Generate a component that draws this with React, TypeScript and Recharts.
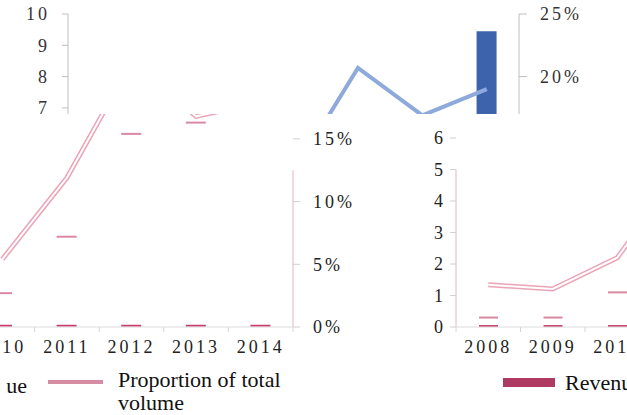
import React from 'react';
import { ComposedChart, Bar, Line, XAxis, YAxis, ReferenceLine } from 'recharts';

// upper fragment (cut at y=114)
const topYears = ['2008', '2009', '2010', '2011', '2012', '2013', '2014'];
const topProportion = [10.5, 11.5, 11.0, 12.3, 20.7, 16.9, 19.0];
const topRevenue = [null, null, null, null, null, null, 9.45];
const topLeftTicks = [0, 1, 2, 3, 4, 5, 6, 7, 8, 9, 10];
const topPctTicks = [0, 5, 10, 15, 20, 25];

// middle-left fragment
const midYears = ['2010', '2011', '2012', '2013', '2014'];
const midProportion = [5.4, 11.9, 21.1, 16.8, 17.9];
const midShareMark = [2.7, 7.2, 15.4, 16.3, 19.5];
const midRevenueMark = [0.1, 0.1, 0.1, 0.1, 0.1];
const midPctTicks = [0, 5, 10, 15];

// middle-right fragment
const rightYears = ['2008', '2009', '2010', '2011'];
const rightProportion = [1.34, 1.21, 2.2, 5.0];
const rightShareMark = [0.3, 0.3, 1.1, 1.5];
const rightRevenueMark = [0.03, 0.03, 0.03, 0.03];
const rightTicks = [0, 1, 2, 3, 4, 5, 6];

const topData = topYears.map((year, i) => ({ year, proportion: topProportion[i], revenue: topRevenue[i] }));
const midData = midYears.map((year, i) => ({
  year, proportion: midProportion[i], share: midShareMark[i], revenue: midRevenueMark[i],
}));
const rightData = rightYears.map((year, i) => ({
  year, proportion: rightProportion[i], share: rightShareMark[i], revenue: rightRevenueMark[i],
}));

const MID_PLOT_W = 323;
const RIGHT_PLOT_W = 258;

const dash = (color: string) => (props: any) => (
  <rect x={props.x} y={props.y - 1} width={props.width} height={2} fill={color} />
);

// year label with excel-style tick marks between the categories
const yearTick = (plotW: number, count: number, lastEdge: boolean) => (props: any) => {
  const { x, y, payload, index } = props;
  const half = plotW / count / 2;
  return (
    <g>
      <line x1={x - half} x2={x - half} y1={y} y2={y + 5} stroke="#D6D6D6" />
      {lastEdge && index === count - 1 && <line x1={x + half} x2={x + half} y1={y} y2={y + 5} stroke="#D6D6D6" />}
      <text x={x} y={y + 13} dy="0.71em" textAnchor="middle" fill="#222" fontSize={18}>{payload.value}</text>
    </g>
  );
};

const tickStyle = { fill: '#222', fontSize: 18 };
const pct = (v: number) => `${v}%`;

const App: React.FC = () => {
  return (
    <div style={{ position: 'absolute', left: 0, top: 0, width: 627, height: 415, overflow: 'hidden', background: '#fff', fontFamily: '"Liberation Serif", serif' }}>
      {/* top */}
      <div style={{ position: 'absolute', left: 0, top: 0, width: 627, height: 114, overflow: 'hidden', letterSpacing: 3 }}>
        <ComposedChart width={627} height={345} data={topData} margin={{ top: 14, right: 0, bottom: 18, left: 0 }}>
          <XAxis dataKey="year" hide />
          <YAxis yAxisId="left" width={68} domain={[0, 10]} ticks={topLeftTicks} interval={0}
            tickSize={6} tickMargin={12} stroke="#BFBFBF" tick={{ fill: '#333', fontSize: 18 }} />
          <YAxis yAxisId="right" orientation="right" width={108} domain={[0, 25]} ticks={topPctTicks} interval={0}
            tickFormatter={pct} tickSize={8} tickMargin={13} stroke="#BFBFBF" tick={{ fill: '#333', fontSize: 18 }} />
          <Bar yAxisId="left" dataKey="revenue" barSize={20} fill="#3C63AC" isAnimationActive={false} />
          <Line yAxisId="right" dataKey="proportion" stroke="#8EA9DB" strokeWidth={4} dot={false} isAnimationActive={false} />
        </ComposedChart>
      </div>

      {/* middle left */}
      <div style={{ position: 'absolute', left: 0, top: 114, width: 400, height: 250, overflow: 'hidden', letterSpacing: 3 }}>
        <div style={{ position: 'absolute', left: -30, top: -120 }}>
          <ComposedChart width={MID_PLOT_W + 107} height={363} data={midData} margin={{ top: 19.5, right: 0, bottom: 0, left: 0 }} barGap={-20}>
            <XAxis dataKey="year" stroke="#DCDCDC" tickLine={false} height={30} tickSize={0} tickMargin={0}
              interval={0} tick={yearTick(MID_PLOT_W, midYears.length, true)} />
            <YAxis orientation="right" width={107} domain={[0, 25]} ticks={midPctTicks} interval={0} tickFormatter={pct}
              axisLine={false} tickSize={7} tickMargin={13} stroke="#D0D0D0" tick={tickStyle} />
            <ReferenceLine segment={[{ x: '2014', y: 0 }, { x: '2014', y: 12.5 }]} position="end" stroke="#E8B0C0" ifOverflow="visible" />
            <Bar dataKey="share" barSize={20} shape={dash('#D98AA2')} isAnimationActive={false} />
            <Bar dataKey="revenue" barSize={20} shape={dash('#C8406A')} isAnimationActive={false} />
            <Line dataKey="proportion" stroke="#EBA3B7" strokeWidth={5} dot={false} isAnimationActive={false} />
            <Line dataKey="proportion" stroke="#fff" strokeWidth={2} dot={false} isAnimationActive={false} />
          </ComposedChart>
        </div>
      </div>

      {/* middle right */}
      <div style={{ position: 'absolute', left: 400, top: 114, width: 227, height: 250, overflow: 'hidden', letterSpacing: 3 }}>
        <div style={{ position: 'absolute', left: 0, top: -120 }}>
          <ComposedChart width={RIGHT_PLOT_W + 56} height={363} data={rightData} margin={{ top: 18, right: 0, bottom: 0, left: 0 }} barGap={-19}>
            <XAxis dataKey="year" stroke="#DCDCDC" tickLine={false} height={30} tickSize={0} tickMargin={0}
              interval={0} tick={yearTick(RIGHT_PLOT_W, rightYears.length, false)} />
            <YAxis width={56} domain={[0, 10]} ticks={rightTicks} interval={0} axisLine={false}
              tickSize={6} tickMargin={4} stroke="#D0D0D0" tick={tickStyle} />
            <ReferenceLine segment={[{ x: '2008', y: 0 }, { x: '2008', y: 5 }]} position="start" stroke="#E8B0C0" ifOverflow="visible" />
            <Bar dataKey="share" barSize={19} shape={dash('#D98AA2')} isAnimationActive={false} />
            <Bar dataKey="revenue" barSize={19} shape={dash('#C8406A')} isAnimationActive={false} />
            <Line dataKey="proportion" stroke="#EBA3B7" strokeWidth={5} dot={false} isAnimationActive={false} />
            <Line dataKey="proportion" stroke="#fff" strokeWidth={2} dot={false} isAnimationActive={false} />
          </ComposedChart>
        </div>
      </div>

      {/* legend pieces */}
      <div style={{ position: 'absolute', left: 6, top: 374, width: 60, height: 30, overflow: 'hidden' }}>
        <span style={{ position: 'absolute', right: 39, top: 0, fontSize: 22, lineHeight: '23px', color: '#111', whiteSpace: 'nowrap' }}>Revenue</span>
      </div>
      <div style={{ position: 'absolute', left: 48, top: 380, width: 55, height: 4, background: '#D68CA3' }} />
      <div style={{ position: 'absolute', left: 118, top: 368, fontSize: 22, lineHeight: '23px', color: '#111' }}>
        Proportion of total<br />volume
      </div>
      <div style={{ position: 'absolute', left: 503, top: 378, width: 52, height: 9, background: '#AE3A62' }} />
      <span style={{ position: 'absolute', left: 565, top: 371, fontSize: 22, lineHeight: '23px', color: '#111', whiteSpace: 'nowrap' }}>Revenue</span>
    </div>
  );
};

export default App;
